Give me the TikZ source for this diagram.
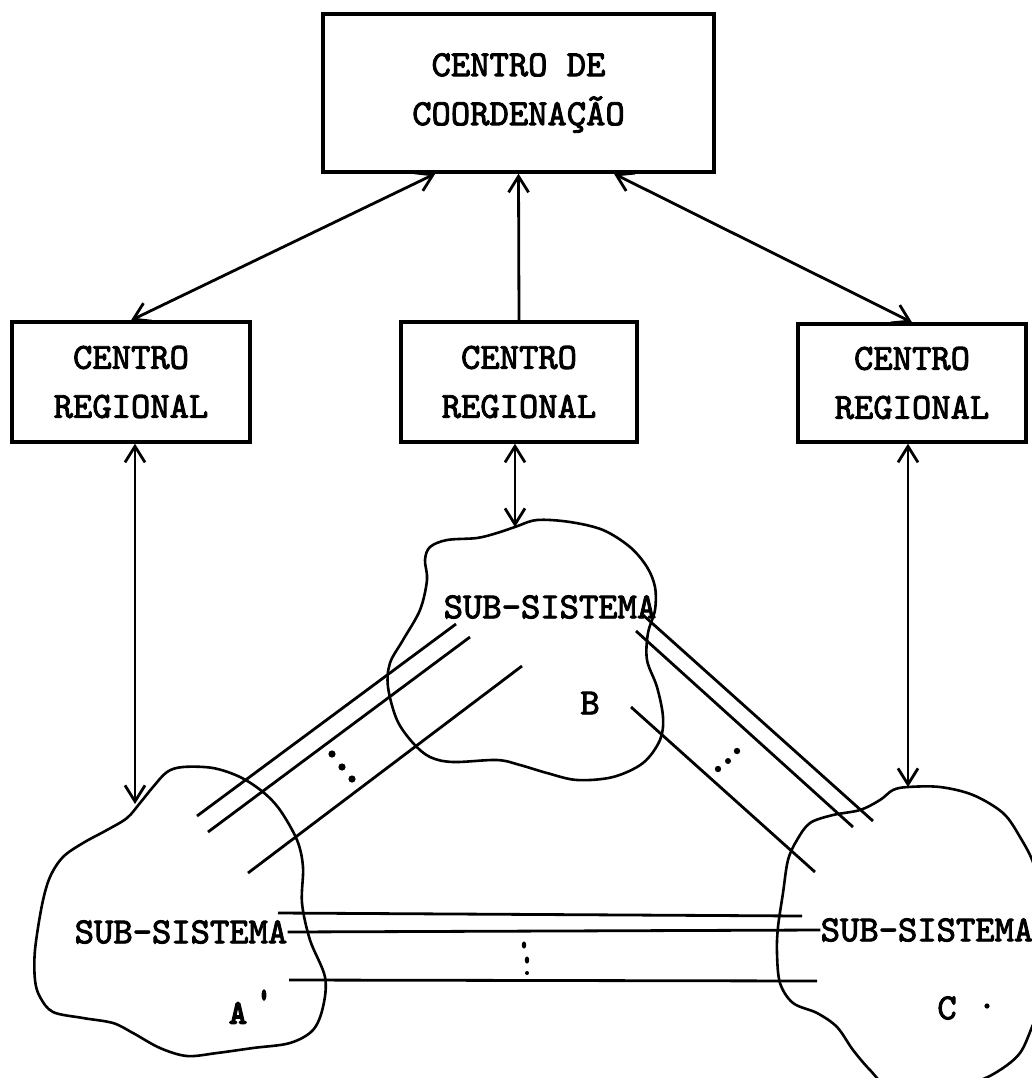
\documentclass[tikz,border=0pt]{standalone}
\usepackage{fontspec}
\newfontfamily\tw{lmmono10-regular.otf}[FakeBold=2.5]
\newfontfamily\twb{lmmono10-regular.otf}[FakeBold=4.5]
\usetikzlibrary{arrows.meta,calc}
\begin{document}
\begin{tikzpicture}[x=0.5pt,y=-0.5pt,
  txt/.style={font=\tw\fontsize{18.4}{24.5}\selectfont, inner sep=0pt, align=center},
  boxnode/.style={txt, draw, line width=1.7pt},
  arr/.style={line width=1.4pt, {Straight Barb[length=8pt,width=10pt]}-{Straight Barb[length=8pt,width=10pt]}},
  uparr/.style={line width=1.4pt, -{Straight Barb[length=8pt,width=10pt]}},
  cloud/.style={line width=1.3pt},
  link/.style={line width=1.4pt}]
\useasboundingbox (0,0) rectangle (1032,1078);
\clip (0,0) rectangle (1032,1078);

% boxes
\node[boxnode, minimum width=195.5pt, minimum height=79pt] (top) at (518.5,93) {CENTRO DE\\COORDENAÇÃO};
\node[boxnode, minimum width=119pt, minimum height=60pt] (L) at (131,382) {CENTRO\\REGIONAL};
\node[boxnode, minimum width=118pt, minimum height=60pt] (M) at (519,382) {CENTRO\\REGIONAL};
\node[boxnode, minimum width=114pt, minimum height=59pt] (R) at (912,383) {CENTRO\\REGIONAL};

% cloud contact points
\coordinate (cA) at (135,804);
\coordinate (cB) at (515,527);
\coordinate (cC) at (908,787);

% arrows
\draw[arr] ($(top.south west)!0.289!(top.south east)$) -- (L.north);
\draw[uparr] (M.north) -- (top.south);
\draw[arr] ($(top.south west)!0.742!(top.south east)$) -- (R.north);
\draw[arr] (cA |- L.south) -- (cA);
\draw[arr] (cB |- M.south) -- (cB);
\draw[arr] (cC |- R.south) -- (cC);

% clouds
\draw[cloud] plot[smooth cycle, tension=0.55] coordinates {
 (183,767) (213,768) (240,777) (263,792) (280,810) (297,840) (303,867) (302,903)
 (310,940) (325,977) (323,1007) (313,1030) (290,1043) (253,1048) (217,1053)
 (187,1056) (160,1048) (133,1033) (113,1023) (83,1018) (53,1012) (40,997)
 (35,980) (35,950) (42,905) (50,877) (63,857) (83,843) (107,830) (127,818)
 (140,803) (153,787) (167,772)};
\draw[cloud] plot[smooth cycle, tension=0.55] coordinates {
 (515,527) (537,520) (570,522) (603,530) (630,547) (647,567) (655,587) (655,610)
 (648,633) (647,660) (657,687) (663,717) (660,740) (643,763) (613,777) (577,780)
 (547,773) (520,765) (497,760) (453,762) (430,757) (413,743) (397,720) (388,687)
 (390,663) (403,640) (420,610) (427,580) (425,560) (430,547) (447,540) (477,538)
 (497,533)};
\draw[cloud] plot[smooth cycle, tension=0.55] coordinates {
 (908,787) (940,787) (973,795) (1003,813) (1020,837) (1034,865) (1042,905)
 (1045,960) (1040,1005) (1032,1027) (1020,1053) (1000,1070) (975,1082)
 (930,1092) (890,1088) (870,1070) (853,1050) (837,1027) (817,1013) (793,1003)
 (780,983) (777,953) (778,927) (783,893) (788,860) (797,840) (810,823)
 (833,815) (860,810) (880,800) (893,790)};

% cloud texts
\node[txt] (tA) at (181,932) {SUB-SISTEMA};
\node[txt] (tB) at (550,607) {SUB-SISTEMA};
\node[txt] (tC) at (927,930) {SUB-SISTEMA};
\node[txt, font=\twb\fontsize{17}{20}\selectfont] (lA) at (238,1013) {A};
\node[txt] (lB) at (590,703) {B};
\node[txt] (lC) at (947,1008) {C};
\fill (264,995) ellipse[x radius=1.2pt, y radius=3pt];
\fill (987,1006) circle[radius=1.3pt];

% links A-B
\draw[link] (197,816) -- (456,624);
\draw[link] (208,832) -- (470,637);
\draw[link] (248,873) -- (522,666);
\fill (332,754) circle[radius=1.8pt];
\fill (342,767) circle[radius=1.8pt];
\fill (352,779) circle[radius=1.8pt];

% links B-C
\draw[link] (643,615) -- (873,821);
\draw[link] (636,631) -- (853,827);
\draw[link] (631,707) -- (815,872);
\fill (718,769) circle[radius=1.6pt];
\fill (728,761) circle[radius=1.5pt];
\fill (737,751) circle[radius=1.6pt];

% links A-C
\draw[link] (278,913) -- (802,916);
\draw[link] (tA.east) -- (tC.west);
\draw[link] (289,980) -- (817,981);
\fill (524,945) ellipse[x radius=1.1pt, y radius=1.8pt];
\fill (527,960) ellipse[x radius=1.1pt, y radius=1.8pt];
\fill (527,973) circle[radius=1pt];
\end{tikzpicture}
\end{document}
